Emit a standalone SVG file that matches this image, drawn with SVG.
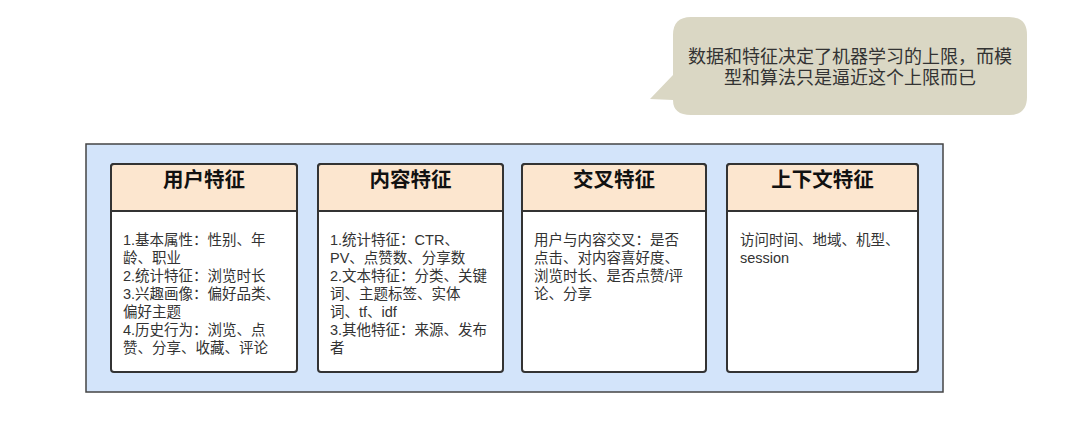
<svg xmlns="http://www.w3.org/2000/svg" width="1080" height="430" viewBox="0 0 1080 430">
<style>
text{font-family:"Liberation Sans","Noto Sans CJK SC",sans-serif}
.hdr{fill:#fce6cf;stroke:#333;stroke-width:2}
.body{fill:#fff;stroke:#333;stroke-width:2}
.title{font-size:20.5px;font-weight:bold;fill:#111;text-anchor:middle}
.txt{font-size:14.5px;fill:#333}
.bub{font-size:18px;fill:#333;text-anchor:middle}
</style>
<rect width="1080" height="430" fill="#fff"/>
<g id="note">
<path d="M691,17 H1009 Q1027,17 1027,35 V97 Q1027,115 1009,115 H691 Q673,115 673,100 L650,99 L673,75 V35 Q673,17 691,17 Z" fill="#dad7c4"/>
<text class="bub" x="850" y="63">数据和特征决定了机器学习的上限，而模</text>
<text class="bub" x="850" y="84">型和算法只是逼近这个上限而已</text>
</g>
<g id="container">
<rect x="86" y="144" width="857" height="248" fill="#d3e4fa" stroke="#444" stroke-width="1.5"/>
</g>
<g id="user">
<rect class="body" x="111" y="164" width="186" height="208" rx="3"/>
<path class="hdr" d="M111,211 V167 Q111,164 114,164 H294 Q297,164 297,167 V211 Z"/>
<text class="title" x="204" y="187">用户特征</text>
<text class="txt"><tspan x="123" y="245">1.基本属性：性别、年</tspan><tspan x="123" y="263">龄、职业</tspan><tspan x="123" y="281">2.统计特征：浏览时长</tspan><tspan x="123" y="299">3.兴趣画像：偏好品类、</tspan><tspan x="123" y="317">偏好主题</tspan><tspan x="123" y="335">4.历史行为：浏览、点</tspan><tspan x="123" y="353">赞、分享、收藏、评论</tspan></text>
</g>
<g id="content">
<rect class="body" x="318" y="164" width="185" height="208" rx="3"/>
<path class="hdr" d="M318,211 V167 Q318,164 321,164 H500 Q503,164 503,167 V211 Z"/>
<text class="title" x="410.5" y="187">内容特征</text>
<text class="txt"><tspan x="330" y="245">1.统计特征：CTR、</tspan><tspan x="330" y="263">PV、点赞数、分享数</tspan><tspan x="330" y="281">2.文本特征：分类、关键</tspan><tspan x="330" y="299">词、主题标签、实体</tspan><tspan x="330" y="317">词、tf、idf</tspan><tspan x="330" y="335">3.其他特征：来源、发布</tspan><tspan x="330" y="353">者</tspan></text>
</g>
<g id="cross">
<rect class="body" x="522" y="164" width="184" height="208" rx="3"/>
<path class="hdr" d="M522,211 V167 Q522,164 525,164 H703 Q706,164 706,167 V211 Z"/>
<text class="title" x="614" y="187">交叉特征</text>
<text class="txt"><tspan x="534" y="245">用户与内容交叉：是否</tspan><tspan x="534" y="263">点击、对内容喜好度、</tspan><tspan x="534" y="281">浏览时长、是否点赞/评</tspan><tspan x="534" y="299">论、分享</tspan></text>
</g>
<g id="context">
<rect class="body" x="727" y="164" width="191" height="208" rx="3"/>
<path class="hdr" d="M727,211 V167 Q727,164 730,164 H915 Q918,164 918,167 V211 Z"/>
<text class="title" x="822.5" y="187">上下文特征</text>
<text class="txt"><tspan x="740" y="245">访问时间、地域、机型、</tspan><tspan x="740" y="263">session</tspan></text>
</g>
<g id="connectors"/>
</svg>
